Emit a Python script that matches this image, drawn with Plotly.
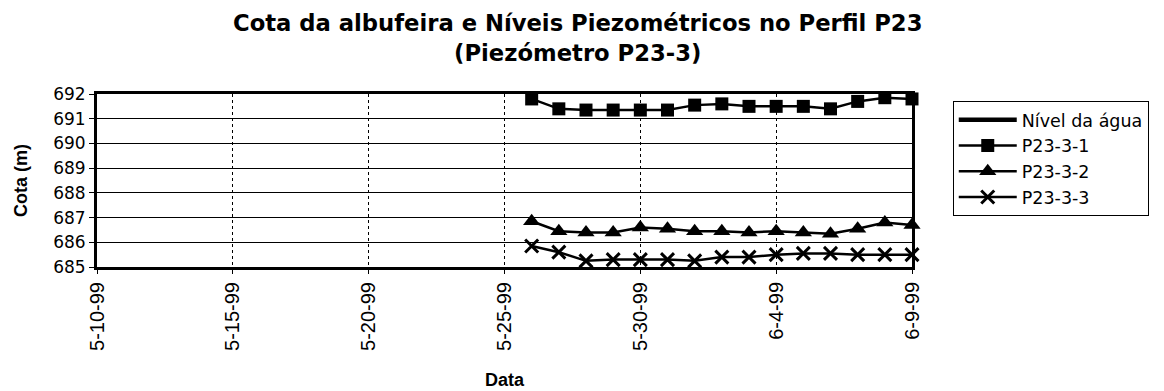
import plotly.graph_objects as go

# Daily readings, 26 May to 9 June 1999
datas = ["1999-05-26", "1999-05-27", "1999-05-28", "1999-05-29", "1999-05-30",
         "1999-05-31", "1999-06-01", "1999-06-02", "1999-06-03", "1999-06-04",
         "1999-06-05", "1999-06-06", "1999-06-07", "1999-06-08", "1999-06-09"]

# reservoir level: no readings inside the plotted range
nivel_agua = [None, None, None, None, None, None, None, None,
              None, None, None, None, None, None, None]

p23_3_1 = [691.8, 691.4, 691.35, 691.35, 691.35, 691.35, 691.55, 691.6,
           691.5, 691.5, 691.5, 691.4, 691.7, 691.85, 691.8]
p23_3_2 = [686.85, 686.45, 686.4, 686.4, 686.6, 686.55, 686.45, 686.45,
           686.4, 686.45, 686.4, 686.35, 686.55, 686.8, 686.7]
p23_3_3 = [685.85, 685.6, 685.25, 685.3, 685.3, 685.3, 685.25, 685.4,
           685.4, 685.5, 685.55, 685.55, 685.5, 685.5, 685.5]

tick_datas = ["1999-05-10", "1999-05-15", "1999-05-20", "1999-05-25",
              "1999-05-30", "1999-06-04", "1999-06-09"]
tick_textos = ["5-10-99", "5-15-99", "5-20-99", "5-25-99",
               "5-30-99", "6-4-99", "6-9-99"]

SANS = "Liberation Sans, Arial, sans-serif"
WIDE = "DejaVu Sans, Verdana, sans-serif"

fig = go.Figure()
fig.add_trace(go.Scatter(x=datas, y=nivel_agua, name="Nível da água",
                         mode="lines", line=dict(color="black", width=4.5)))
fig.add_trace(go.Scatter(x=datas, y=p23_3_1, name="P23-3-1", mode="lines+markers",
                         cliponaxis=False,
                         line=dict(color="black", width=2.5),
                         marker=dict(symbol="square", size=13, color="black")))
fig.add_trace(go.Scatter(x=datas, y=p23_3_2, name="P23-3-2", mode="lines+markers",
                         cliponaxis=False,
                         line=dict(color="black", width=2.5),
                         marker=dict(symbol="triangle-up", size=15, color="black")))
fig.add_trace(go.Scatter(x=datas, y=p23_3_3, name="P23-3-3", mode="lines+markers",
                         cliponaxis=False,
                         line=dict(color="black", width=2.5),
                         marker=dict(symbol="x-thin", size=13, color="black",
                                     line=dict(color="black", width=3))))

# two-line bold title centred over the whole figure
fig.add_annotation(
    text="<b>Cota da albufeira e Níveis Piezométricos no Perfil P23</b><br>"
         "<b>(Piezómetro P23-3)</b>",
    xref="paper", yref="paper", x=0.59, y=1.50, xanchor="center", yanchor="top",
    showarrow=False, align="center",
    font=dict(size=22.7, family=WIDE, color="black"),
)

fig.update_layout(
    width=1164, height=391,
    margin=dict(l=97, r=252, t=94, b=124),
    paper_bgcolor="white", plot_bgcolor="white",
    font=dict(family=SANS, color="black"),
    legend=dict(x=1.05, xanchor="left", y=0.96, yanchor="top",
                bordercolor="black", borderwidth=1, bgcolor="white",
                font=dict(size=17.5, family=WIDE, color="black"),
                itemwidth=58, tracegroupgap=0),
    showlegend=True,
)

fig.update_xaxes(
    type="date", range=["1999-05-10", "1999-06-09"], automargin=False,
    tickmode="array", tickvals=tick_datas, ticktext=tick_textos,
    tickangle=-90, tickfont=dict(size=20, family=SANS),
    ticks="outside", ticklen=4, tickcolor="black",
    showgrid=True, gridcolor="black", gridwidth=1, griddash="dot",
    showline=True, linecolor="black", linewidth=3, mirror=True,
    title=dict(text="<b>Data</b>", font=dict(size=18, family=SANS), standoff=24),
)
fig.update_yaxes(
    range=[685, 692], dtick=1, tick0=685, automargin=False,
    tickfont=dict(size=17, family=WIDE),
    ticks="outside", ticklen=5, tickcolor="black",
    showgrid=True, gridcolor="black", gridwidth=1,
    showline=True, linecolor="black", linewidth=3, mirror=True,
    zeroline=False,
    title=dict(text="<b>Cota (m)</b>", font=dict(size=18, family=SANS), standoff=21),
)

fig.write_html("out.html")
